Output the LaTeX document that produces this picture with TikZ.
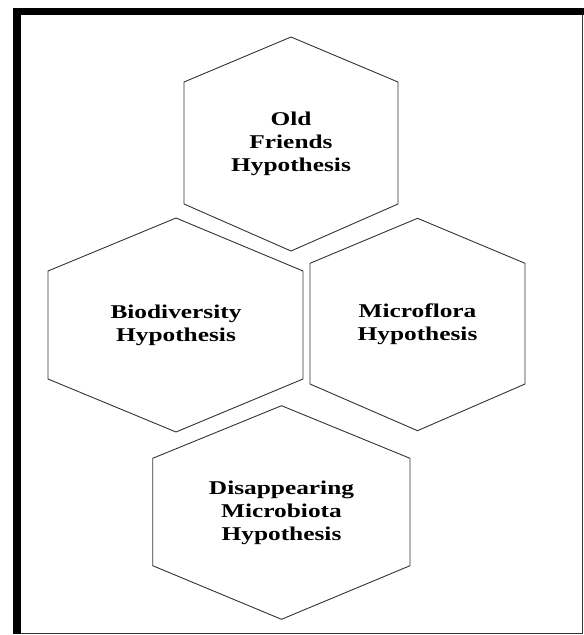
\documentclass[tikz,border=0pt]{standalone}
\usepackage{fontspec}
\setmainfont{Liberation Serif}
\newfontfamily\hexfont[FakeStretch=1.3]{Liberation Serif}
\definecolor{edgegray}{HTML}{333333}
\tikzset{
  hexline/.style={draw=edgegray, line width=0.9pt, line join=miter},
  hexlabel/.style={inner sep=0pt, align=center, font=\hexfont\bfseries\fontsize{19.5}{23}\selectfont},
  framebar/.style={fill=black, draw=none},
  thinbar/.style={fill=edgegray, draw=none}
}
\begin{document}
\begin{tikzpicture}[x=1pt, y=-1pt]
\useasboundingbox (0,0) rectangle (584,635);
% frame
\fill[framebar] (12.7,7.7) rectangle (584,15.3);
\fill[framebar] (12.7,7.7) rectangle (20.7,634.3);
\fill[thinbar] (581.7,15.3) rectangle (583.3,634.3);
\fill[thinbar] (20.7,632.7) rectangle (583.3,634.3);
% Old Friends hexagon
\coordinate (of) at (291,144);
\draw[hexline] (291,37) -- (398,82) -- (398,204) -- (291,251) -- (184,204) -- (184,82) -- cycle;
\node[hexlabel] (oft) at (of) {Old\\Friends\\Hypothesis};
% Biodiversity hexagon
\coordinate (bd) at (176,325);
\draw[hexline] (176,218) -- (303,271) -- (303,379) -- (176,432) -- (48,379) -- (48,271) -- cycle;
\node[hexlabel] (bdt) at (bd) {Biodiversity\\Hypothesis};
% Microflora hexagon
\coordinate (mf) at (417.5,324.5);
\draw[hexline] (417.5,218.3) -- (525,263.3) -- (525,384) -- (417.5,430.7) -- (310,384) -- (310,263.3) -- cycle;
\node[hexlabel] (mft) at (mf) {Microflora\\Hypothesis};
% Disappearing Microbiota hexagon
\coordinate (dm) at (281.5,512.5);
\draw[hexline] (281.5,405.7) -- (410,458.3) -- (410,565.7) -- (281.5,619.3) -- (152.7,565.7) -- (152.7,458.3) -- cycle;
\node[hexlabel] (dmt) at (dm) {Disappearing\\Microbiota\\Hypothesis};
\end{tikzpicture}
\end{document}
